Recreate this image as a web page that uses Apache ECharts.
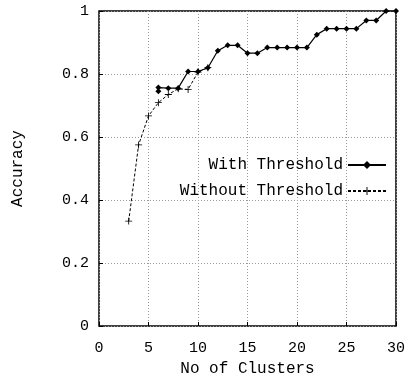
<!DOCTYPE html>
<html><head><meta charset="utf-8">
<script src="https://cdn.jsdelivr.net/npm/echarts@6/dist/echarts.min.js"></script>
<style>html,body{margin:0;padding:0;background:#fff}#c{width:411px;height:380px}</style>
</head><body><div id="c"></div>
<script>
const withX = [6, 6, 7, 8, 9, 10, 11, 12, 13, 14, 15, 16, 17, 18, 19, 20, 21, 22, 23, 24, 25, 26, 27, 28, 29, 30];
const withY = [0.745, 0.757, 0.755, 0.755, 0.808, 0.808, 0.82, 0.874, 0.891, 0.891, 0.866, 0.866, 0.884, 0.884, 0.884, 0.884, 0.884, 0.925, 0.944, 0.944, 0.944, 0.944, 0.97, 0.97, 1.0, 1.0];
const withoutX = [3, 4, 5, 6, 7, 8, 9, 10, 11];
const withoutY = [0.333, 0.575, 0.667, 0.709, 0.735, 0.753, 0.751, 0.806, 0.82];
const xTicks = [0, 5, 10, 15, 20, 25, 30];
const yTicks = [0, 0.2, 0.4, 0.6, 0.8, 1];
const F = '"Liberation Mono", "DejaVu Sans Mono", monospace';
const chart = echarts.init(document.getElementById('c'));
const plus = 'path://M-1,-0.12H1V0.12H-1Z M-0.12,-1H0.12V1H-0.12Z';
chart.setOption({
  animation: false,
  grid: {left: 99, right: 15, top: 11, bottom: 54, show: true, borderColor: '#000', borderWidth: 1.5, outerBoundsMode: 'none', containLabel: false},
  xAxis: {type: 'value', min: 0, max: 30, interval: 5,
    name: 'No of Clusters', nameLocation: 'middle', nameGap: 35,
    nameTextStyle: {fontFamily: F, fontSize: 16, color: '#000'},
    axisLine: {show: false},
    axisTick: {inside: true, length: 4, lineStyle: {color: '#000'}},
    axisLabel: {fontFamily: F, fontSize: 15, color: '#000', margin: 15, formatter: v => xTicks.includes(v) ? String(v) : ''},
    splitLine: {lineStyle: {color: '#999', type: [1, 2], width: 1}}},
  yAxis: {type: 'value', min: 0, max: 1, interval: 0.2,
    name: 'Accuracy', nameLocation: 'middle', nameGap: 73, nameRotate: 90,
    nameTextStyle: {fontFamily: F, fontSize: 16, color: '#000'},
    axisLine: {show: false},
    axisTick: {inside: true, length: 4, lineStyle: {color: '#000'}},
    axisLabel: {fontFamily: F, fontSize: 15, color: '#000', margin: 10,
      formatter: v => { const t = yTicks.find(k => Math.abs(k - v) < 1e-9); return t === undefined ? '' : (t === 0 ? '0' : t === 1 ? '1' : t.toFixed(1)); }},
    splitLine: {lineStyle: {color: '#999', type: [1, 2], width: 1}}},
  legend: {orient: 'vertical', right: 19, top: 152, align: 'right', itemGap: 10, itemWidth: 38, itemHeight: 10,
    textStyle: {fontFamily: F, fontSize: 16, color: '#000'},
    data: ['With Threshold', 'Without Threshold']},
  series: [
    {name: 'Without Threshold', type: 'line', data: withoutX.map((x, i) => [x, withoutY[i]]),
      symbol: plus, symbolSize: 7, itemStyle: {color: '#000'},
      lineStyle: {color: '#000', width: 1, type: [3, 2]}},
    {name: 'With Threshold', type: 'line', data: withX.map((x, i) => [x, withY[i]]),
      symbol: 'diamond', symbolSize: 6, itemStyle: {color: '#000'},
      lineStyle: {color: '#000', width: 1.2}}
  ]
});
</script></body></html>
